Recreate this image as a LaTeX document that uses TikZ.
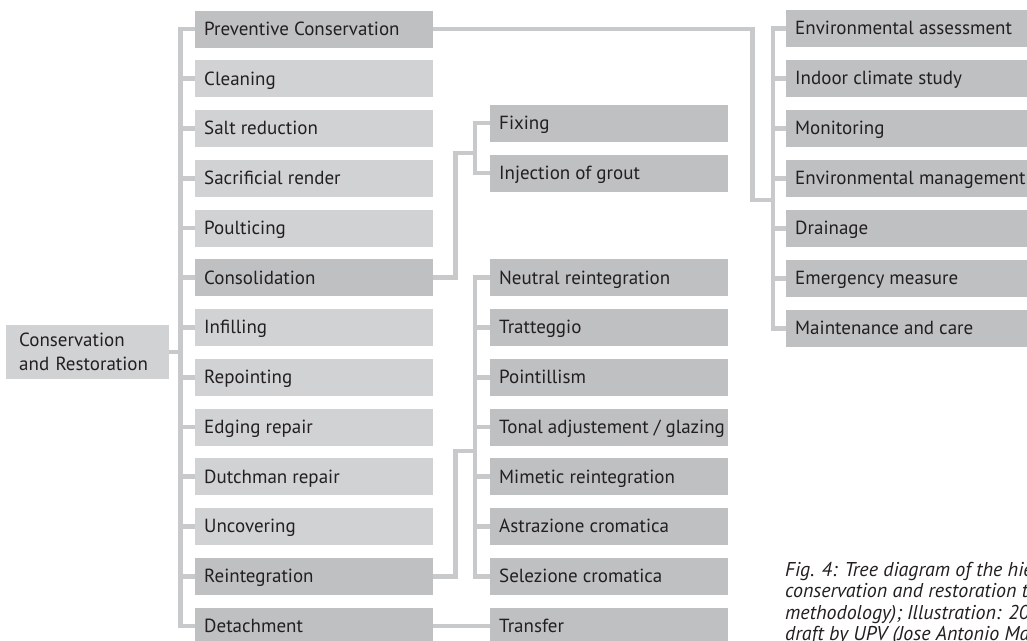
\documentclass[tikz,border=0pt]{standalone}
\usepackage{fontspec}
\setmainfont{PT Sans}
\definecolor{boxlight}{RGB}{209,210,212}
\definecolor{boxdark}{RGB}{191,192,194}
\definecolor{linegray}{RGB}{200,201,203}
\definecolor{ink}{RGB}{35,31,32}
\tikzset{
	leaf/.style={fill=boxlight, text=ink, anchor=west, font=\fontsize{19}{23}\selectfont,
		minimum height=37pt, inner xsep=9pt, inner ysep=0pt, text height=16pt, text depth=3.4pt},
	branch/.style={leaf, fill=boxdark},
	link/.style={draw=linegray, line width=4.6pt},
	caption/.style={text=ink, anchor=north west, inner sep=0pt, align=left,
		font=\fontsize{20}{21.5}\selectfont\itshape},
}
\newcommand{\lbl}[2][220pt]{\makebox[#1][l]{#2}}
\newcommand{\fork}[3]{
	\draw[link] (#1.west) -- ++(-#3,0) |- (#2.west);
}
\newcommand{\stub}[2]{\draw[link] (#1.west) -- ++(-#2,0);}

\begin{document}
\begin{tikzpicture}[x=1pt,y=-1pt]
	\useasboundingbox (0,0) rectangle (1027,640);
	\clip (0,0) rectangle (1027,640);
	% root
	\node[leaf, text width=137pt, inner xsep=13pt, minimum height=54pt, text height=, text depth=,
		font=\fontsize{19}{24}\selectfont, align=left] (root) at (6,352) {Conservation\\and Restoration};
	% first level
	\foreach \t/\s [count=\i] in {Preventive Conservation/branch, Cleaning/leaf, Salt reduction/leaf,
		Sacrificial render/leaf, Poulticing/leaf, Consolidation/branch, Infilling/leaf, Repointing/leaf,
		Edging repair/leaf, Dutchman repair/leaf, Uncovering/leaf, Reintegration/branch, Detachment/branch}
		\node[\s] (m\i) at (195,{29+(\i-1)*49.75}) {\lbl{\t}};
	\fork{m1}{m13}{14.5}
	\foreach \i in {2,...,12} \stub{m\i}{14.5}
	\draw[link] (root.east) -- ++(11.5,0);
	% consolidation
	\node[branch] (f1) at (490,123) {\lbl{Fixing}};
	\node[branch] (f2) at (490,173) {\lbl{Injection of grout}};
	\fork{f1}{f2}{15}
	\coordinate (cj) at (475,153);
	\draw[link] (m6.east) -- ++(22,0) |- (cj);
	% reintegration
	\foreach \t [count=\i] in {Neutral reintegration, Tratteggio, Pointillism,
		Tonal adjustement / glazing, Mimetic reintegration, Astrazione cromatica, Selezione cromatica}
		\node[branch] (r\i) at (490,{29+(\i+4)*49.75}) {\lbl{\t}};
	\fork{r1}{r7}{15}
	\foreach \i in {2,...,6} \stub{r\i}{15}
	\coordinate (rj) at (475,451);
	\draw[link] (m12.east) -- ++(22,0) |- (rj);
	% detachment
	\node[branch] (tr) at (490,626) {\lbl{Transfer}};
	\draw[link] (m13.east) -- (tr.west);
	% preventive conservation
	\foreach \t [count=\i] in {Environmental assessment, Indoor climate study, Monitoring,
		Environmental management, Drainage, Emergency measure, Maintenance and care}
		\node[branch] (e\i) at (786,{28.5+(\i-1)*50}) {\lbl[250pt]{\t}};
	\fork{e1}{e7}{13}
	\foreach \i in {2,...,6} \stub{e\i}{13}
	\coordinate (ej) at (773,200);
	\draw[link] (m1.east) -- ++(319,0) |- (ej);
	% caption
	\node[caption] (cap) at (785,562) {Fig. 4: Tree diagram of the hierar\\conservation and restoration to\\methodology); Illustration: 2013\\draft by UPV (Jose Antonio Ma};
\end{tikzpicture}
\end{document}
